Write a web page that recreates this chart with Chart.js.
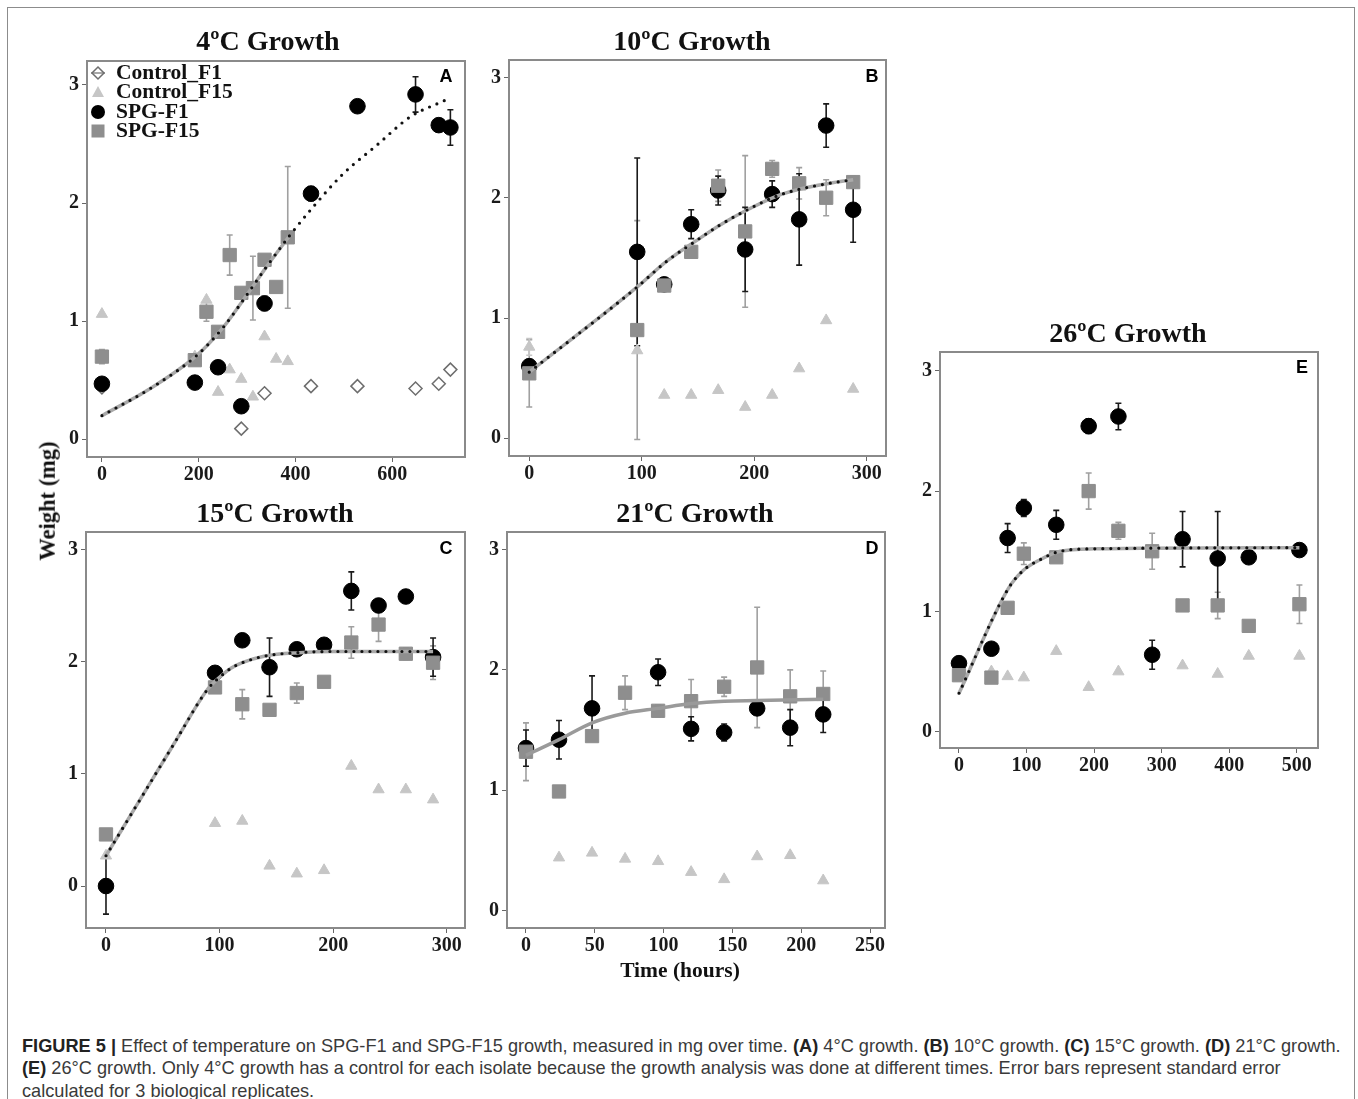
<!DOCTYPE html>
<html>
<head>
<meta charset="utf-8">
<script src="https://cdn.jsdelivr.net/npm/chart.js@4.4.1/dist/chart.umd.min.js"></script>
<style>
html,body{margin:0;padding:0;background:#fff;}
body{width:1358px;height:1099px;position:relative;overflow:hidden;}
#outer{position:absolute;left:7px;top:7px;width:1348px;height:1120px;border:1.5px solid #8c8c8c;box-sizing:border-box;}
.ttl{position:absolute;font-family:"Liberation Serif","Times New Roman",serif;font-weight:bold;font-size:28px;line-height:28px;white-space:nowrap;transform:translateX(-50%);color:#111;z-index:5;}
.let{position:absolute;font-family:"Liberation Sans",Arial,sans-serif;font-weight:bold;font-size:18px;line-height:18px;transform:translate(-50%,-50%);color:#000;z-index:5;}
.axl{position:absolute;font-family:"Liberation Serif","Times New Roman",serif;font-weight:bold;white-space:nowrap;color:#111;z-index:5;}
.leg{position:absolute;font-family:"Liberation Serif","Times New Roman",serif;font-weight:bold;font-size:21.5px;line-height:21.5px;white-space:nowrap;color:#111;z-index:6;}
.legm{position:absolute;z-index:6;}
.cap{position:absolute;left:22px;font-family:"Liberation Sans",Arial,sans-serif;color:#3a3a3a;white-space:nowrap;font-size:16px;line-height:16px;z-index:5;}
.cap b{color:#222;}
</style>
</head>
<body>
<div id="outer"></div>

<div class="ttl" style="left:268px;top:27px">4ºC Growth</div>
<div class="ttl" style="left:692px;top:27px">10ºC Growth</div>
<div class="ttl" style="left:275px;top:499px">15ºC Growth</div>
<div class="ttl" style="left:695px;top:499px">21ºC Growth</div>
<div class="ttl" style="left:1128px;top:319px">26ºC Growth</div>

<div class="let" style="left:446px;top:76px">A</div>
<div class="let" style="left:872px;top:76px">B</div>
<div class="let" style="left:446px;top:548px">C</div>
<div class="let" style="left:872px;top:548px">D</div>
<div class="let" style="left:1302px;top:367px">E</div>

<div class="axl" style="left:48px;top:501px;font-size:22.5px;line-height:22.5px;transform:translate(-50%,-50%) rotate(-90deg)">Weight (mg)</div>
<div class="axl" style="left:680px;top:971px;font-size:21.5px;line-height:21.5px;transform:translate(-50%,-50%)">Time (hours)</div>

<div id="legend"></div>

<div class="cap" id="cap1"><b>FIGURE 5 |</b> Effect of temperature on SPG-F1 and SPG-F15 growth, measured in mg over time. <b>(A)</b> 4°C growth. <b>(B)</b> 10°C growth. <b>(C)</b> 15°C growth. <b>(D)</b> 21°C growth.</div>
<div class="cap" id="cap2"><b>(E)</b> 26°C growth. Only 4°C growth has a control for each isolate because the growth analysis was done at different times. Error bars represent standard error</div>
<div class="cap" id="cap3">calculated for 3 biological replicates.</div>

<script>
// ================= DATA =================
const seriesNames = ['Control_F1', 'Control_F15', 'SPG-F1', 'SPG-F15'];
const yTicks = [0, 1, 2, 3];

// ---- Panel A : 4ºC ----
const A_xTicks = [0, 200, 400, 600];
const A_f1_t  = [0, 192, 240, 288, 336, 432, 528, 648, 696, 720];
const A_f1_y  = [0.47, 0.48, 0.61, 0.28, 1.15, 2.08, 2.82, 2.92, 2.66, 2.64];
const A_f1_e  = [0.04, 0.05, 0.03, 0.03, 0.06, 0.06, 0.00, 0.15, 0.00, 0.15];
const A_f15_t = [0, 192, 216, 240, 264, 288, 312, 336, 360, 384];
const A_f15_y = [0.70, 0.67, 1.08, 0.91, 1.56, 1.24, 1.28, 1.52, 1.29, 1.71];
const A_f15_e = [0.06, 0.04, 0.08, 0.03, 0.17, 0.03, 0.27, 0.03, 0.04, 0.60];
const A_c15_t = [0, 192, 216, 240, 264, 288, 312, 336, 360, 384];
const A_c15_y = [1.06, 0.70, 1.18, 0.40, 0.59, 0.51, 0.36, 0.87, 0.68, 0.66];
const A_c1_t  = [0, 288, 336, 432, 528, 648, 696, 720];
const A_c1_y  = [0.44, 0.09, 0.39, 0.45, 0.45, 0.43, 0.47, 0.59];
const A_fit_t = [0, 100, 196, 251, 299, 340, 389, 437, 499, 568, 637, 709];
const A_fit_y = [0.20, 0.43, 0.71, 0.95, 1.22, 1.46, 1.73, 1.97, 2.25, 2.49, 2.73, 2.87];
const A_fitBandEnd = 390;

// ---- Panel B : 10ºC ----
const B_xTicks = [0, 100, 200, 300];
const B_t     = [0, 96, 120, 144, 168, 192, 216, 240, 264, 288];
const B_f1_y  = [0.60, 1.55, 1.28, 1.78, 2.06, 1.57, 2.03, 1.82, 2.60, 1.90];
const B_f1_e  = [0.03, 0.78, 0.03, 0.12, 0.12, 0.35, 0.11, 0.38, 0.18, 0.27];
const B_f15_y = [0.54, 0.90, 1.27, 1.55, 2.10, 1.72, 2.24, 2.12, 2.00, 2.13];
const B_f15_e = [0.28, 0.91, 0.03, 0.03, 0.13, 0.63, 0.07, 0.13, 0.15, 0.05];
const B_c15_y = [0.76, 0.73, 0.36, 0.36, 0.40, 0.26, 0.36, 0.58, 0.98, 0.41];
const B_c15_e = [0.07, 0.00, 0.00, 0.00, 0.00, 0.00, 0.00, 0.00, 0.00, 0.00];
const B_fit_t = [0, 95, 122, 148, 169, 194, 219, 240, 267, 288];
const B_fit_y = [0.55, 1.25, 1.47, 1.64, 1.77, 1.90, 2.01, 2.07, 2.12, 2.15];

// ---- Panel C : 15ºC ----
const C_xTicks = [0, 100, 200, 300];
const C_t     = [0, 96, 120, 144, 168, 192, 216, 240, 264, 288];
const C_f1_y  = [0.00, 1.90, 2.19, 1.95, 2.11, 2.15, 2.63, 2.50, 2.58, 2.04];
const C_f1_e  = [0.25, 0.03, 0.03, 0.26, 0.04, 0.03, 0.17, 0.06, 0.00, 0.17];
const C_f15_y = [0.46, 1.77, 1.62, 1.57, 1.72, 1.82, 2.17, 2.33, 2.07, 1.99];
const C_f15_e = [0.03, 0.05, 0.13, 0.00, 0.09, 0.03, 0.14, 0.15, 0.05, 0.15];
const C_c15_y = [0.27, 0.56, 0.58, 0.18, 0.11, 0.14, 1.07, 0.86, 0.86, 0.77];
const C_fit_t = [0, 30, 60, 90, 100, 110, 120, 140, 170, 200, 288];
const C_fit_y = [0.27, 0.77, 1.27, 1.76, 1.86, 1.94, 1.99, 2.05, 2.08, 2.09, 2.09];

// ---- Panel D : 21ºC ----
const D_xTicks = [0, 50, 100, 150, 200, 250];
const D_f1_t  = [0, 24, 48, 96, 120, 144, 168, 192, 216];
const D_f1_y  = [1.35, 1.42, 1.68, 1.98, 1.51, 1.48, 1.68, 1.52, 1.63];
const D_f1_e  = [0.15, 0.16, 0.27, 0.11, 0.10, 0.07, 0.00, 0.15, 0.15];
const D_f15_t = [0, 24, 48, 72, 96, 120, 144, 168, 192, 216];
const D_f15_y = [1.32, 0.99, 1.45, 1.81, 1.66, 1.74, 1.86, 2.02, 1.78, 1.80];
const D_f15_e = [0.24, 0.02, 0.02, 0.14, 0.05, 0.18, 0.08, 0.50, 0.22, 0.19];
const D_c15_t = [24, 48, 72, 96, 120, 144, 168, 192, 216];
const D_c15_y = [0.44, 0.48, 0.43, 0.41, 0.32, 0.26, 0.45, 0.46, 0.25];
const D_fit_t = [0, 24, 48, 72, 96, 120, 144, 168, 216];
const D_fit_y = [1.29, 1.42, 1.56, 1.64, 1.68, 1.72, 1.74, 1.745, 1.755];

// ---- Panel E : 26ºC ----
const E_xTicks = [0, 100, 200, 300, 400, 500];
const E_t     = [0, 48, 72, 96, 144, 192, 236, 286, 331, 383, 429, 504];
const E_f1_y  = [0.57, 0.69, 1.61, 1.86, 1.72, 2.54, 2.62, 0.64, 1.60, 1.44, 1.45, 1.51];
const E_f1_e  = [0.02, 0.03, 0.12, 0.07, 0.12, 0.06, 0.11, 0.12, 0.23, 0.39, 0.04, 0.02];
const E_f15_y = [0.47, 0.45, 1.03, 1.48, 1.45, 2.00, 1.67, 1.50, 1.05, 1.05, 0.88, 1.06];
const E_f15_e = [0.02, 0.02, 0.02, 0.09, 0.02, 0.15, 0.07, 0.15, 0.00, 0.11, 0.00, 0.16];
const E_c15_t = [48, 72, 96, 144, 192, 236, 331, 383, 429, 504];
const E_c15_y = [0.50, 0.46, 0.45, 0.67, 0.37, 0.50, 0.55, 0.48, 0.63, 0.63];
const E_fit_t = [0, 73, 95, 120, 150, 199, 504];
const E_fit_y = [0.32, 1.19, 1.34, 1.43, 1.50, 1.52, 1.53];

// ================= STYLES =================
const COL = {f1:'#000000', f15:'#8e8e8e', c15:'#c6c6c6', c1:'#6e6e6e', band:'#a9a9a9', dots:'#111111'};
const ST = {
  f1:  {pointStyle:'circle',   pointRadius:7.8, backgroundColor:COL.f1,  borderColor:COL.f1,  borderWidth:1, errColor:'#1a1a1a'},
  f15: {pointStyle:'rect',     pointRadius:9.4, backgroundColor:COL.f15, borderColor:COL.f15, borderWidth:1, errColor:'#a0a0a0'},
  c15: {pointStyle:'triangle', pointRadius:6.5, backgroundColor:COL.c15, borderColor:COL.c15, borderWidth:1, errColor:'#c6c6c6'},
  c1:  {pointStyle:'rectRot',  pointRadius:6.5, backgroundColor:'#ffffff', borderColor:COL.c1, borderWidth:1.5}
};

function pts(t, y) { return t.map((x, i) => ({x: x, y: y[i]})); }
function series(name, t, y, st, errs) {
  return Object.assign({label: name, data: pts(t, y), showLine: false, errs: errs || null}, st);
}
function dotsLine(t, y) {
  return {label:'fit', data: pts(t, y), showLine:true, pointRadius:0, borderColor:COL.dots, borderWidth:3.2,
          borderDash:[0, 8], borderCapStyle:'round', cubicInterpolationMode:'monotone', fill:false};
}
function bandLine(t, y, color) {
  return {label:'fitband', data: pts(t, y), showLine:true, pointRadius:0, borderColor:color || COL.band, borderWidth:3.5,
          cubicInterpolationMode:'monotone', fill:false};
}

// ================= PLUGINS =================
const errPlugin = {
  id: 'errbars',
  beforeDatasetsDraw(chart) {
    const ctx = chart.ctx, xs = chart.scales.x, ys = chart.scales.y;
    chart.data.datasets.forEach(ds => {
      if (!ds.errs) return;
      ctx.save();
      ctx.strokeStyle = ds.errColor;
      ctx.lineWidth = 1.6;
      ds.data.forEach((p, i) => {
        const e = ds.errs[i];
        if (!e) return;
        const px = xs.getPixelForValue(p.x);
        const y1 = ys.getPixelForValue(p.y - e), y2 = ys.getPixelForValue(p.y + e);
        ctx.beginPath();
        ctx.moveTo(px, y1); ctx.lineTo(px, y2);
        ctx.moveTo(px - 3, y1); ctx.lineTo(px + 3, y1);
        ctx.moveTo(px - 3, y2); ctx.lineTo(px + 3, y2);
        ctx.stroke();
      });
      ctx.restore();
    });
  }
};
const framePlugin = {
  id: 'frame',
  afterDraw(chart) {
    const ctx = chart.ctx, a = chart.chartArea;
    ctx.save();
    ctx.strokeStyle = '#8a8a8a';
    ctx.lineWidth = 2;
    ctx.strokeRect(a.left, a.top, a.right - a.left, a.bottom - a.top);
    ctx.restore();
  }
};

// ================= PANEL FACTORY =================
function makePanel(p) {
  const padL = 60, padT = 20, padR = 30, padB = 40;
  const fl = p.frame[0], ft = p.frame[1], fr = p.frame[2], fb = p.frame[3];
  const W = fr - fl + padL + padR, H = fb - ft + padT + padB;
  const c = document.createElement('canvas');
  c.width = W; c.height = H;
  c.style.cssText = 'position:absolute;left:' + (fl - padL) + 'px;top:' + (ft - padT) + 'px;width:' + W + 'px;height:' + H + 'px;z-index:2';
  document.body.appendChild(c);
  const tickFont = {family:'"Liberation Serif","Times New Roman",serif', size:20, weight:'bold'};
  new Chart(c, {
    type: 'scatter',
    data: {datasets: p.datasets},
    options: {
      responsive:false, animation:false, devicePixelRatio:1, events:[],
      layout: {padding:{left:0, top:padT, right:padR, bottom:0}},
      plugins: {legend:{display:false}, tooltip:{enabled:false}},
      scales: {
        x: {type:'linear', min:p.xr[0], max:p.xr[1],
            afterBuildTicks: s => { s.ticks = p.xt.map(v => ({value:v})); },
            afterFit: s => { s.height = padB; },
            ticks: {font:tickFont, color:'#1a1a1a', padding:1, maxRotation:0, autoSkip:false},
            grid: {drawOnChartArea:false, drawTicks:true, tickLength:5, color:'#666', lineWidth:1},
            border: {display:false}},
        y: {type:'linear', min:p.yr[0], max:p.yr[1],
            afterBuildTicks: s => { s.ticks = yTicks.map(v => ({value:v})); },
            afterFit: s => { s.width = padL; },
            ticks: {font:tickFont, color:'#1a1a1a', padding:3, autoSkip:false},
            grid: {drawOnChartArea:false, drawTicks:true, tickLength:5, color:'#666', lineWidth:1},
            border: {display:false}}
      }
    },
    plugins: [errPlugin, framePlugin]
  });
}

const bandA_t = A_fit_t.filter(t => t <= A_fitBandEnd);
const bandA_y = A_fit_y.slice(0, bandA_t.length);

makePanel({frame:[87, 61, 465, 457], xr:[-30.8, 750.2], yr:[-0.150, 3.203], xt:A_xTicks, datasets:[
  dotsLine(A_fit_t, A_fit_y), bandLine(bandA_t, bandA_y),
  series(seriesNames[3], A_f15_t, A_f15_y, ST.f15, A_f15_e),
  series(seriesNames[2], A_f1_t, A_f1_y, ST.f1, A_f1_e),
  series(seriesNames[1], A_c15_t, A_c15_y, ST.c15),
  series(seriesNames[0], A_c1_t, A_c1_y, ST.c1)
]});
makePanel({frame:[509, 60, 886, 456], xr:[-18.0, 317.2], yr:[-0.147, 3.145], xt:B_xTicks, datasets:[
  dotsLine(B_fit_t, B_fit_y), bandLine(B_fit_t, B_fit_y),
  series(seriesNames[3], B_t, B_f15_y, ST.f15, B_f15_e),
  series(seriesNames[2], B_t, B_f1_y, ST.f1, B_f1_e),
  series(seriesNames[1], B_t, B_c15_y, ST.c15, B_c15_e)
]});
makePanel({frame:[86, 532, 465, 928], xr:[-17.6, 316.1], yr:[-0.374, 3.155], xt:C_xTicks, datasets:[
  dotsLine(C_fit_t, C_fit_y), bandLine(C_fit_t, C_fit_y),
  series(seriesNames[3], C_t, C_f15_y, ST.f15, C_f15_e),
  series(seriesNames[2], C_t, C_f1_y, ST.f1, C_f1_e),
  series(seriesNames[1], C_t, C_c15_y, ST.c15)
]});
makePanel({frame:[507, 532, 885, 928], xr:[-13.8, 260.9], yr:[-0.144, 3.145], xt:D_xTicks, datasets:[
  bandLine(D_fit_t, D_fit_y, '#9a9a9a'),
  series(seriesNames[3], D_f15_t, D_f15_y, ST.f15, D_f15_e),
  series(seriesNames[2], D_f1_t, D_f1_y, ST.f1, D_f1_e),
  series(seriesNames[1], D_c15_t, D_c15_y, ST.c15)
]});
makePanel({frame:[940, 352, 1318, 748], xr:[-28.1, 531.5], yr:[-0.135, 3.156], xt:E_xTicks, datasets:[
  dotsLine(E_fit_t, E_fit_y), bandLine(E_fit_t, E_fit_y),
  series(seriesNames[3], E_t, E_f15_y, ST.f15, E_f15_e),
  series(seriesNames[2], E_t, E_f1_y, ST.f1, E_f1_e),
  series(seriesNames[1], E_c15_t, E_c15_y, ST.c15)
]});

// ================= LEGEND (panel A) =================
(function() {
  const rowsY = [73, 92, 112, 131];
  const marks = [
    '<polygon points="10,4 16,10 10,16 4,10" fill="#fff" stroke="' + COL.c1 + '" stroke-width="1.5"/><line x1="3" y1="10" x2="17" y2="10" stroke="' + COL.c1 + '" stroke-width="1.2"/>',
    '<polygon points="10,4 16,15 4,15" fill="' + COL.c15 + '"/>',
    '<circle cx="10" cy="10" r="7" fill="' + COL.f1 + '"/>',
    '<rect x="3.5" y="3.5" width="13" height="13" fill="' + COL.f15 + '"/>'
  ];
  const host = document.getElementById('legend');
  let html = '';
  seriesNames.forEach((n, i) => {
    html += '<svg class="legm" width="20" height="20" style="left:88px;top:' + (rowsY[i] - 10) + 'px">' + marks[i] + '</svg>';
    html += '<div class="leg" style="left:116px;top:' + (rowsY[i] - 11) + 'px">' + n + '</div>';
  });
  host.innerHTML = html;
})();

// ================= CAPTION FIT =================
(function() {
  const l1 = document.getElementById('cap1');
  const w = l1.getBoundingClientRect().width;
  const fs = 16 * 1319 / w;
  const centers = [1046, 1068.5, 1091];
  ['cap1', 'cap2', 'cap3'].forEach((id, i) => {
    const e = document.getElementById(id);
    e.style.fontSize = fs + 'px';
    e.style.lineHeight = fs + 'px';
    e.style.top = (centers[i] - fs * 0.5) + 'px';
  });
})();
</script>
</body>
</html>
